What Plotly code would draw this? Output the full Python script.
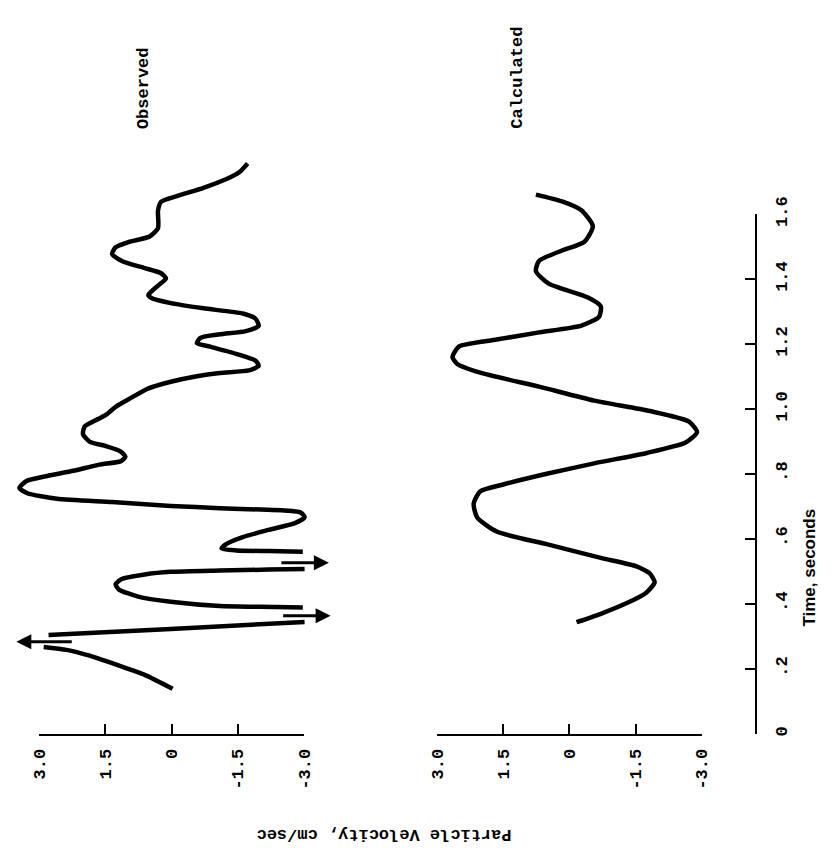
import plotly.graph_objects as go

# ---- data: particle velocity (cm/sec) against time (seconds) ----
# Observed record; None marks where the trace runs off scale.
obs_t = [0.139, 0.182, 0.214, 0.241, 0.259, 0.268, None,
         0.305, 0.323, 0.345, None,
         0.389, 0.391, 0.394, 0.407, 0.423, 0.445, 0.461, 0.477, 0.491, 0.499,
         0.503, 0.506, 0.508, None,
         0.561, 0.563, 0.565, 0.571, 0.585, 0.606, 0.628, 0.649, 0.667, 0.681,
         0.687, 0.695, 0.702, 0.714, 0.724, 0.741, 0.757, 0.778, 0.794, 0.810,
         0.829, 0.839, 0.853, 0.870, 0.886, 0.900, 0.923, 0.947, 0.961, 0.982,
         1.007, 1.036, 1.063, 1.084, 1.101, 1.111, 1.119, 1.133, 1.149, 1.170,
         1.192, 1.203, 1.219, 1.230, 1.240, 1.256, 1.278, 1.294, 1.310, 1.326,
         1.342, 1.351, 1.380, 1.402, 1.418, 1.434, 1.455, 1.477, 1.498, 1.514,
         1.531, 1.557, 1.611, 1.638, 1.656, 1.681, 1.708, 1.729, 1.756]
obs_v = [-0.02, 0.61, 1.27, 1.86, 2.38, 2.90, None,
         2.79, 0.02, -3.01, None,
         -2.97, -2.34, -1.09, 0.02, 0.76, 1.20, 1.27, 1.13, 0.61, 0.02,
         -1.09, -2.19, -3.01, None,
         -2.97, -2.19, -1.46, -1.13, -1.24, -1.61, -2.19, -2.79, -3.01, -2.93,
         -2.64, -1.09, 0.02, 1.35, 2.60, 3.27, 3.45, 3.30, 2.82, 2.23,
         1.64, 1.16, 1.05, 1.16, 1.49, 1.86, 2.01, 1.97, 1.79, 1.49,
         1.27, 0.90, 0.54, 0.02, -0.57, -1.09, -1.75, -1.97, -1.90, -1.46,
         -0.87, -0.57, -0.65, -1.09, -1.68, -1.97, -1.90, -1.61, -0.72, 0.02,
         0.46, 0.53, 0.31, 0.13, 0.24, 0.61, 1.12, 1.35, 1.27, 0.98,
         0.50, 0.31, 0.31, 0.24, -0.13, -0.72, -1.24, -1.53, -1.72]

# Off-scale excursions of the observed record: time, arrow tail, arrow tip
offscale_t = [0.284, 0.364, 0.527]
offscale_from = [2.23, -2.49, -2.45]
offscale_to = [3.52, -3.60, -3.56]

# Calculated record
calc_t = [0.344, 0.370, 0.403, 0.435, 0.467, 0.494, 0.516, 0.542, 0.585, 0.623,
          0.666, 0.709, 0.747, 0.768, 0.800, 0.833, 0.865, 0.897, 0.929, 0.962,
          0.994, 1.026, 1.069, 1.112, 1.139, 1.160, 1.193, 1.214, 1.236, 1.257,
          1.284, 1.316, 1.343, 1.386, 1.424, 1.456, 1.488, 1.515, 1.563, 1.612,
          1.639, 1.660]
calc_v = [-0.16, -0.71, -1.30, -1.74, -1.93, -1.82, -1.52, -0.71, 0.54, 1.65,
          2.09, 2.17, 2.02, 1.50, 0.54, -0.56, -1.75, -2.63, -2.89, -2.70,
          -1.82, -0.56, 0.69, 2.02, 2.54, 2.65, 2.50, 1.65, 0.69, -0.27,
          -0.67, -0.71, -0.42, 0.47, 0.76, 0.69, 0.17, -0.34, -0.53, -0.27,
          0.17, 0.76]

vel_ticks = [3.0, 1.5, 0.0, -1.5, -3.0]
vel_labels = ["3.0", "1.5", "0", "-1.5", "-3.0"]
time_ticks = [0.0, 0.2, 0.4, 0.6, 0.8, 1.0, 1.2, 1.4, 1.6]
time_labels = ["0", ".2", ".4", ".6", ".8", "1.0", "1.2", "1.4", "1.6"]

# ---- page geometry (pixels) ----
W, H = 837, 857
PX_PER_CMS = 45.17        # horizontal scale of the velocity axes
PX_PER_SEC = 333.1        # vertical scale of the time axis
T0_PY = 734               # pixel row of t = 0
TOP_PY = 140              # top of the data area
OBS_V3_PX, CALC_V3_PX = 32, 439   # pixel column of +3.0 on each velocity axis
OBS_DOM_PX = (0, 337)
CALC_DOM_PX = (400, 745)
TIME_AXIS_PX = 765


def fx(px):
    return px / W


def fy(py):
    return 1 - py / H


def vel_range(dom, v3_px):
    left = 3.0 + (v3_px - dom[0]) / PX_PER_CMS
    right = 3.0 - (dom[1] - v3_px) / PX_PER_CMS
    return [left, right]


t_top = (T0_PY - TOP_PY) / PX_PER_SEC
t16_py = T0_PY - 1.6 * PX_PER_SEC
v_span_px = 6.0 * PX_PER_CMS

mono = "Liberation Mono, DejaVu Sans Mono, monospace"
label_font = dict(family=mono, size=17, color="black", weight="bold")

fig = go.Figure()

line_style = dict(color="black", width=4.5, shape="spline", smoothing=0.6)
fig.add_trace(go.Scatter(x=obs_v, y=obs_t, mode="lines", line=line_style,
                         connectgaps=False, xaxis="x", yaxis="y",
                         showlegend=False, hoverinfo="skip"))
fig.add_trace(go.Scatter(x=calc_v, y=calc_t, mode="lines", line=line_style,
                         xaxis="x2", yaxis="y", showlegend=False,
                         hoverinfo="skip"))
# empty traces that bind the drawn scale axes to subplots
fig.add_trace(go.Scatter(x=[], y=[], xaxis="x3", yaxis="y2", showlegend=False))
fig.add_trace(go.Scatter(x=[], y=[], xaxis="x4", yaxis="y2", showlegend=False))

hidden = dict(visible=False, showgrid=False, zeroline=False)
scale_axis = dict(
    tickmode="array", tickvals=vel_ticks, ticktext=vel_labels,
    ticks="inside", ticklen=10, tickwidth=2, tickcolor="black",
    showline=True, linecolor="black", linewidth=2,
    showgrid=False, zeroline=False, tickangle=-90,
    tickfont=label_font, range=[3.0, -3.0], fixedrange=True,
    anchor="y2", ticklabelstandoff=6,
)

fig.update_layout(
    width=W, height=H,
    margin=dict(l=0, r=0, t=0, b=0),
    paper_bgcolor="white", plot_bgcolor="rgba(0,0,0,0)",
    showlegend=False,
    xaxis=dict(domain=[fx(OBS_DOM_PX[0]), fx(OBS_DOM_PX[1])],
               range=vel_range(OBS_DOM_PX, OBS_V3_PX), anchor="y", **hidden),
    xaxis2=dict(domain=[fx(CALC_DOM_PX[0]), fx(CALC_DOM_PX[1])],
                range=vel_range(CALC_DOM_PX, CALC_V3_PX), anchor="y", **hidden),
    yaxis=dict(domain=[fy(T0_PY), fy(TOP_PY)], range=[0, t_top],
               anchor="x", **hidden),
    xaxis3=dict(domain=[fx(OBS_V3_PX), fx(OBS_V3_PX + v_span_px)], **scale_axis),
    xaxis4=dict(domain=[fx(CALC_V3_PX), fx(CALC_V3_PX + v_span_px)], **scale_axis),
    yaxis2=dict(domain=[fy(T0_PY), fy(t16_py)], range=[0, 1.6],
                anchor="free", position=fx(TIME_AXIS_PX), side="right",
                tickmode="array", tickvals=time_ticks, ticktext=time_labels,
                ticks="inside", ticklen=10, tickwidth=2, tickcolor="black",
                showline=True, linecolor="black", linewidth=1.5,
                showgrid=False, zeroline=False, tickangle=-90,
                tickfont=label_font, fixedrange=True, ticklabelstandoff=10),
)

# arrows marking off-scale peaks of the observed record
for t, v0, v1 in zip(offscale_t, offscale_from, offscale_to):
    fig.add_annotation(x=v1, y=t, ax=v0, ay=t, xref="x", yref="y",
                       axref="x", ayref="y", text="", showarrow=True,
                       arrowhead=2, arrowsize=1.0, arrowwidth=3,
                       arrowcolor="black", standoff=0, startstandoff=0)

# panel and axis titles
fig.add_annotation(text="Observed", x=fx(138), y=fy(72), xref="paper",
                   yref="paper", showarrow=False, textangle=-90,
                   font=label_font, xanchor="center", yanchor="middle")
fig.add_annotation(text="Calculated", x=fx(521), y=fy(61), xref="paper",
                   yref="paper", showarrow=False, textangle=-90,
                   font=label_font, xanchor="center", yanchor="middle")
fig.add_annotation(text="Particle Velocity, cm/sec", x=fx(385), y=fy(837),
                   xref="paper", yref="paper", showarrow=False, textangle=180,
                   font=label_font, xanchor="center", yanchor="middle")
fig.add_annotation(text="Time, seconds", x=fx(820), y=fy(563), xref="paper",
                   yref="paper", showarrow=False, textangle=-90,
                   font=dict(family="Liberation Sans, Arial, sans-serif",
                             size=17, color="black", weight="bold"),
                   xanchor="center", yanchor="middle")

fig.write_html("out.html")
